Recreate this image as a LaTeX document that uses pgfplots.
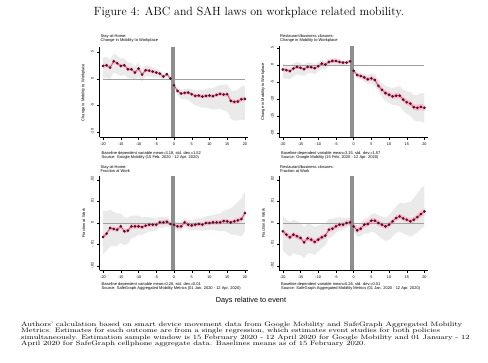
\documentclass[border=0pt]{standalone}
\usepackage{pgfplots}
\pgfplotsset{compat=1.18}
\usepackage{pgfplotstable}
\usepgfplotslibrary{fillbetween}
\usepackage{fontspec}
\newfontfamily\arial{Liberation Sans}

\definecolor{lineRed}{HTML}{D2416E}
\definecolor{markRed}{HTML}{5C0A28}
\definecolor{pinkband}{HTML}{F6BECC}
\definecolor{grayband}{HTML}{EAEAEA}
\definecolor{barGray}{HTML}{8E8E8E}
\definecolor{zeroGray}{HTML}{A0A0A0}

% x = day, y = estimate, gu/gl = upper/lower half-width of grey band, p = half-width of pink band
\pgfplotstableread{
x y gu gl p
-20 2.44 1.6 2.4 0.35
-19 2.56 1.6 2.3 0.35
-18 2.13 1.5 2.2 0.35
-17 3.31 1.5 2.1 0.35
-16 2.94 1.4 2.0 0.35
-15 2.44 1.4 1.9 0.35
-14 2.56 1.3 1.8 0.35
-13 1.81 1.3 1.7 0.35
-12 1.81 1.2 1.6 0.35
-11 1.19 1.2 1.5 0.35
-10 1.94 1.1 1.4 0.35
-9 0.81 1.0 1.3 0.33
-8 1.63 0.9 1.2 0.33
-7 1.56 0.9 1.1 0.32
-6 1.38 0.8 1.0 0.30
-5 1.19 0.7 0.9 0.30
-4 1.00 0.6 0.8 0.28
-3 0.44 0.5 0.6 0.25
-2 0.88 0.4 0.5 0.22
-1 0.06 0.3 0.3 0.20
0 -1.19 0.3 0.5 0.20
1 -2.25 0.5 0.8 0.25
2 -2.75 0.6 1.0 0.28
3 -2.63 0.7 1.2 0.30
4 -2.56 0.8 1.4 0.30
5 -2.88 0.9 1.6 0.32
6 -3.19 1.0 1.8 0.33
7 -3.13 1.1 2.0 0.35
8 -3.31 1.2 2.1 0.35
9 -3.19 1.3 2.2 0.35
10 -3.13 1.4 2.4 0.35
11 -3.25 1.5 2.5 0.37
12 -3.00 1.6 2.7 0.37
13 -2.81 1.7 2.8 0.38
14 -2.94 1.8 3.0 0.38
15 -2.88 1.9 3.2 0.40
16 -4.13 2.0 3.4 0.40
17 -4.31 2.1 3.5 0.40
18 -4.25 2.2 3.6 0.42
19 -3.81 2.4 3.8 0.42
20 -3.75 2.5 4.0 0.45
}\tabTL

\pgfplotstableread{
x y gu gl p
-20 -1.25 1.7 2.6 0.5
-19 -1.44 1.6 2.5 0.5
-18 -1.73 1.6 2.4 0.5
-17 -0.96 1.5 2.3 0.5
-16 -0.48 1.5 2.2 0.5
-15 -0.77 1.4 2.1 0.5
-14 -1.15 1.4 2.0 0.5
-13 -0.48 1.3 1.9 0.5
-12 -0.58 1.3 1.8 0.5
-11 -0.87 1.2 1.7 0.5
-10 -0.29 1.2 1.6 0.5
-9 0.48 1.1 1.5 0.5
-8 0.19 1.0 1.4 0.5
-7 0.96 1.0 1.3 0.5
-6 1.25 0.9 1.2 0.5
-5 1.25 0.8 1.1 0.5
-4 0.96 0.8 1.0 0.45
-3 0.77 0.7 0.8 0.45
-2 0.77 0.6 0.7 0.4
-1 1.15 0.5 0.5 0.4
0 -1.63 0.5 0.6 0.4
1 -2.88 0.7 0.8 0.5
2 -3.17 0.9 1.0 0.55
3 -3.56 1.1 1.2 0.6
4 -4.13 1.3 1.4 0.6
5 -3.85 1.4 1.6 0.65
6 -4.33 1.6 1.8 0.65
7 -6.06 1.8 1.9 0.7
8 -7.21 1.9 2.1 0.7
9 -8.17 2.1 2.3 0.7
10 -8.65 2.2 2.4 0.75
11 -9.13 2.4 2.6 0.75
12 -8.94 2.6 2.8 0.75
13 -8.94 2.8 3.0 0.8
14 -10.10 3.0 3.2 0.8
15 -10.87 3.2 3.4 0.8
16 -11.25 3.4 3.6 0.85
17 -12.31 3.6 3.8 0.85
18 -12.50 3.8 4.0 0.9
19 -12.21 4.0 4.3 0.9
20 -12.50 4.3 4.5 0.9
}\tabTR

% bottom panels: values in thousandths
\pgfplotstableread{
x y gu gl p
-20 -6.46 12.0 8.0 1.0
-19 -4.92 10.5 8.0 1.0
-18 -2.31 8.5 8.5 1.0
-17 -2.77 8.0 8.0 1.0
-16 -3.08 7.5 7.5 1.0
-15 -1.54 6.0 7.5 1.0
-14 -3.85 6.5 6.5 1.0
-13 -3.54 6.0 6.0 1.0
-12 -1.54 5.0 5.5 1.0
-11 -1.54 5.0 5.0 1.0
-10 -1.54 5.0 4.0 1.0
-9 -1.85 4.5 3.8 1.0
-8 -1.23 4.0 3.5 1.0
-7 -0.77 3.5 3.2 1.0
-6 -0.77 3.2 3.0 1.0
-5 -0.77 3.0 2.8 1.0
-4 0.31 2.6 2.6 1.0
-3 0.31 2.4 2.4 1.0
-2 0.62 2.2 2.2 1.0
-1 -0.46 2.0 2.0 1.0
0 -0.77 1.8 1.8 1.0
1 -1.54 2.0 2.0 1.0
2 -1.54 2.1 2.1 1.0
3 0.31 2.2 2.2 1.0
4 -0.77 2.4 2.4 1.0
5 -1.08 2.5 2.5 1.0
6 -0.77 2.6 2.6 1.0
7 -0.46 2.8 2.8 1.0
8 -0.77 3.0 3.0 1.0
9 0.00 3.1 3.1 1.0
10 0.00 3.3 3.3 1.0
11 0.31 3.5 3.5 1.0
12 0.31 3.8 3.8 1.0
13 0.31 4.1 4.1 1.0
14 0.92 4.8 4.5 1.0
15 0.77 5.5 5.0 1.0
16 0.31 6.5 5.6 1.0
17 0.77 7.5 6.2 1.1
18 1.23 8.5 7.0 1.1
19 1.85 9.5 8.0 1.2
20 4.62 10.0 8.5 1.3
}\tabBL

\pgfplotstableread{
x y gu gl p
-20 -3.85 7.0 9.0 1.2
-19 -5.38 7.0 9.0 1.2
-18 -6.62 7.0 9.0 1.2
-17 -5.38 7.0 8.5 1.2
-16 -6.15 7.0 8.5 1.2
-15 -6.92 7.0 8.0 1.2
-14 -8.92 7.0 7.5 1.2
-13 -7.08 7.0 7.0 1.2
-12 -7.69 7.0 6.5 1.2
-11 -8.77 7.0 6.0 1.2
-10 -7.69 6.5 5.5 1.2
-9 -6.62 6.0 5.0 1.2
-8 -5.85 5.5 4.5 1.2
-7 -3.08 5.0 4.0 1.2
-6 -2.62 4.5 3.5 1.2
-5 -1.54 4.0 3.0 1.2
-4 -0.77 3.5 2.8 1.2
-3 -0.77 3.0 2.5 1.2
-2 0.00 2.5 2.2 1.2
-1 0.31 2.0 2.0 1.2
0 -1.54 2.0 2.5 1.2
1 -3.38 2.3 3.0 1.2
2 -2.62 2.5 3.5 1.2
3 -0.77 2.8 4.0 1.2
4 -0.46 3.0 4.5 1.2
5 1.08 3.2 5.0 1.2
6 1.08 3.4 5.5 1.2
7 0.00 3.6 6.0 1.2
8 -0.77 3.8 6.5 1.2
9 -1.54 4.0 6.8 1.2
10 -0.77 4.3 7.0 1.2
11 0.77 4.8 7.0 1.2
12 2.31 5.5 7.0 1.2
13 3.08 6.2 7.0 1.2
14 2.15 7.0 7.0 1.2
15 1.54 8.0 7.0 1.2
16 0.77 9.0 7.0 1.2
17 1.54 10.0 7.0 1.3
18 2.77 11.0 7.0 1.3
19 4.15 12.0 7.0 1.4
20 5.38 12.0 7.0 1.5
}\tabBR

% band: #1 table, #2 domain, #3 upper col, #4 lower col, #5 colour, #6 unique id
\newcommand\band[6]{%
  \addplot[name path=U#6, draw=none, forget plot, restrict x to domain=#2] table[x=x, y expr=\thisrow{y}+\thisrow{#3}] {#1};
  \addplot[name path=L#6, draw=none, forget plot, restrict x to domain=#2] table[x=x, y expr=\thisrow{y}-\thisrow{#4}] {#1};
  \addplot[fill=#5, draw=none, forget plot] fill between[of=U#6 and L#6];
}
\newcommand\panel[3]{% #1 table, #2 ymin, #3 ymax
  \band{#1}{-20:-1}{gu}{gl}{grayband}{a}
  \band{#1}{0:20}{gu}{gl}{grayband}{b}
  \band{#1}{-20:-1}{p}{p}{pinkband}{c}
  \band{#1}{0:20}{p}{p}{pinkband}{d}
  \addplot[zeroGray, line width=0.45pt, forget plot] coordinates {(-20,0) (20,0)};
  \addplot[barGray, line width=3.9pt, forget plot] coordinates {(-0.35,#2) (-0.35,#3)};
  \addplot[lineRed, line width=0.6pt, mark=*, mark size=1pt, mark options={fill=markRed, draw=markRed}, restrict x to domain=-20:-1] table[x=x,y=y] {#1};
  \addplot[lineRed, line width=0.6pt, mark=*, mark size=1pt, mark options={fill=markRed, draw=markRed}, restrict x to domain=0:20] table[x=x,y=y] {#1};
}

\pgfplotsset{
  stata/.style={
    scale only axis, anchor=south west,
    axis lines*=left, axis line style={-, line width=0.45pt, black},
    xmin=-21, xmax=21,
    xtick={-20,-15,-10,-5,0,5,10,15,20},
    xticklabels={-20,-15,-10,-5,0,5,10,15,20},
    tick align=outside, major tick length=2.2pt,
    tick style={black, line width=0.4pt},
    ticklabel style={font=\arial\fontsize{3.8}{4}\selectfont},
    xticklabel style={yshift=0.6pt},
    yticklabel style={rotate=90, anchor=south, xshift=0.6pt},
    ylabel style={font=\arial\fontsize{4}{4.5}\selectfont, yshift=-1pt},
    clip=true,
  }
}

\begin{document}
\begin{tikzpicture}

\node[font=\fontsize{11.9}{13}\selectfont] at (249pt,350pt) {Figure 4: ABC and SAH laws on workplace related mobility.};

% top-left
\begin{axis}[stata, at={(99.5pt,224.5pt)}, width=149pt, height=90pt,
  ymin=-11.0, ymax=5.9, ytick={-10,-5,0,5}, yticklabels={-10,-5,0,5},
  ylabel={Change in Mobility to Workplace}]
  \panel{\tabTL}{-11.0}{5.9}
\end{axis}
% top-right
\begin{axis}[stata, at={(279.3pt,224.5pt)}, width=148.7pt, height=91pt,
  ymin=-21.2, ymax=5.5, ytick={-20,-15,-10,-5,0,5}, yticklabels={-20,-15,-10,-5,0,5},
  ylabel={Change in Mobility to Workplace}]
  \panel{\tabTR}{-21.2}{5.5}
\end{axis}
% bottom-left
\begin{axis}[stata, at={(99.5pt,91.5pt)}, width=149pt, height=94.5pt,
  ymin=-22, ymax=21.8, ytick={-20,-10,0,10,20}, yticklabels={-.02,-.01,0,.01,.02},
  ylabel={Fraction at Work}]
  \panel{\tabBL}{-22}{21.8}
\end{axis}
% bottom-right
\begin{axis}[stata, at={(279.3pt,91.5pt)}, width=148.7pt, height=94.5pt,
  ymin=-22, ymax=21.8, ytick={-20,-10,0,10,20}, yticklabels={-.02,-.01,0,.01,.02},
  ylabel={Fraction at Work}]
  \panel{\tabBR}{-22}{21.8}
\end{axis}

% panel headers
\begin{scope}[every node/.style={font=\arial\fontsize{4}{4.3}\selectfont, align=left, anchor=south west, inner sep=0pt}]
\node at (100.5pt,319pt) {Stay-at-Home:\\Change in Mobility to Workplace};
\node at (280pt,319pt) {Restaurant/business closures:\\Change in Mobility to Workplace};
\node at (100.5pt,189pt) {Stay-at-Home:\\Fraction at Work};
\node at (280pt,189pt) {Restaurant/business closures:\\Fraction at Work};
\end{scope}
% notes
\begin{scope}[every node/.style={font=\arial\fontsize{4}{3.6}\selectfont, align=left, anchor=north west, inner sep=0pt}]
\node at (101.5pt,211pt) {Baseline dependent variable mean=3.18, std. dev.=1.52\\Source: Google Mobility (15 Feb. 2020 - 12 Apr. 2020)};
\node at (281pt,211pt) {Baseline dependent variable mean=3.15, std. dev.=1.57\\Source: Google Mobility (15 Feb. 2020 - 12 Apr. 2020)};
\node at (101.5pt,80pt) {Baseline dependent variable mean=0.26, std. dev.=0.01\\Source: SafeGraph Aggregated Mobility Metrics (01 Jan. 2020 - 12 Apr. 2020)};
\node at (281pt,80pt) {Baseline dependent variable mean=0.26, std. dev.=0.01\\Source: SafeGraph Aggregated Mobility Metrics (01 Jan. 2020 - 12 Apr. 2020)};
\end{scope}

\node[font=\arial\fontsize{7.3}{8}\selectfont] at (251pt,61.5pt) {Days relative to event};

\node[anchor=north west, inner sep=0pt, align=left] at (21pt,40.5pt) {\scalebox{1}[0.8]{\parbox{470pt}{\fontsize{8.0}{8.1}\selectfont
Authors' calculation based on smart device movement data from Google Mobility and SafeGraph Aggregated Mobility\\
Metrics. Estimates for each outcome are from a single regression, which estimates event studies for both policies\\
simultaneously. Estimation sample window is 15 February 2020 - 12 April 2020 for Google Mobility and 01 January - 12\\
April 2020 for SafeGraph cellphone aggregate data. Baselines means as of 15 February 2020.}}};

\pgfresetboundingbox
\path[use as bounding box] (0pt,0pt) rectangle (488pt,362pt);
\end{tikzpicture}
\end{document}
